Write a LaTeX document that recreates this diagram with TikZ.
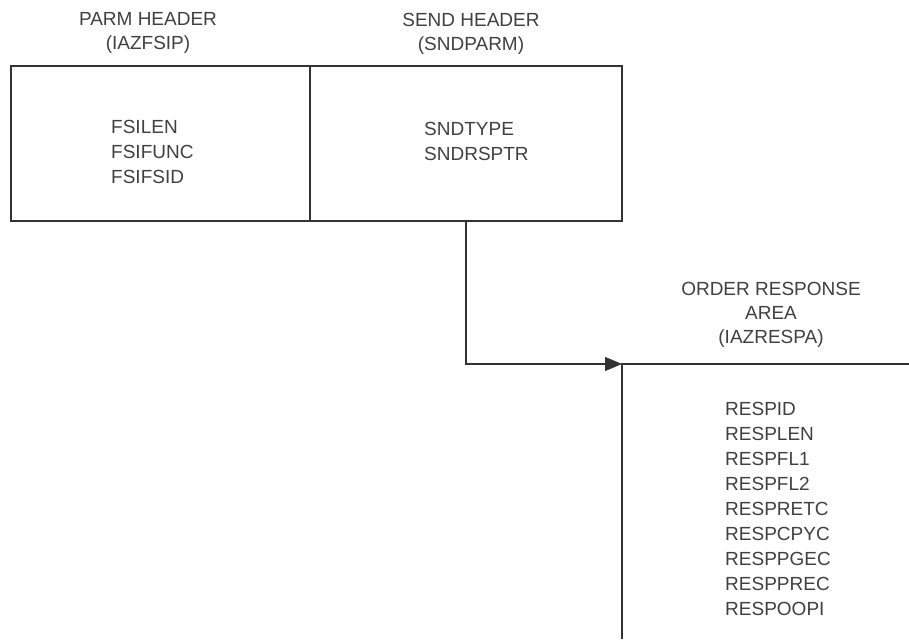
\documentclass[tikz,border=0pt]{standalone}
\usepackage{fontspec}
\setmainfont{Liberation Sans}
\usetikzlibrary{arrows.meta}

\begin{document}
\begin{tikzpicture}[x=1pt,y=-1pt]
					\tikzstyle{every node}=[inner sep=0pt,text=black!75]
					\tikzstyle{label}=[align=center,font=\fontsize{19}{24}\selectfont]
					\tikzstyle{fields}=[align=left,anchor=west,font=\fontsize{19}{25}\selectfont]
					\tikzstyle{block}=[draw=black!80,line width=1.2pt,minimum height=155pt]
					\tikzstyle{link}=[draw=black!80,line width=1.2pt]

					\useasboundingbox (0,0) rectangle (909,639);

					% header labels
					\node[label] (parmhdr) at (148,33) {PARM HEADER\\(IAZFSIP)};
					\node[label] (sendhdr) at (471,34) {SEND HEADER\\(SNDPARM)};
					\node[label] (resphdr) at (771,315) {ORDER RESPONSE\\AREA\\(IAZRESPA)};

					% control blocks
					\node[block,minimum width=299pt] (parmbox) at (160.5,143.5) {};
					\node[block,minimum width=312pt] (sendbox) at (466,143.5) {};

					\node[fields] (parmflds) at (111,152) {FSILEN\\FSIFUNC\\FSIFSID};
					\node[fields] (sendflds) at (424,141) {SNDTYPE\\SNDRSPTR};
					\node[fields] (respflds) at (725,509) {RESPID\\RESPLEN\\RESPFL1\\RESPFL2\\RESPRETC\\RESPCPYC\\RESPPGEC\\RESPPREC\\RESPOOPI};

					% response area corner
					\coordinate (resp) at (622,364);
					\coordinate (respend) at (909,364);
					\coordinate (respfoot) at (622,639);
					\draw[link] (respend) -- (resp) -- (respfoot);

					\draw[link,-{Triangle[length=17pt,width=14pt]}] (sendbox.south) |- (resp);
\end{tikzpicture}
\end{document}
